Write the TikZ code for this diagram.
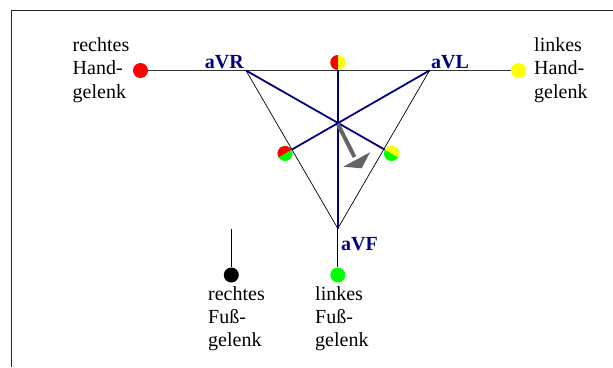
\documentclass[tikz,border=0pt]{standalone}
\usepackage{fontspec}
\setmainfont{Liberation Serif}
\newfontfamily\diagserif{Liberation Serif}
\definecolor{navyline}{RGB}{0,0,128}
\definecolor{dotred}{RGB}{255,0,0}
\definecolor{dotyellow}{RGB}{255,255,0}
\definecolor{dotgreen}{RGB}{0,255,0}
\definecolor{vecgray}{RGB}{100,100,100}
\begin{document}
\begin{tikzpicture}[x=1pt,y=-1pt,
  framestyle/.style={draw=black!85,line width=1.2pt},
  wire/.style={draw=black!80,line width=1.1pt},
  thinline/.style={draw=black,line width=0.7pt},
  blueline/.style={draw=navyline,line width=1.8pt},
  dot/.style={circle,inner sep=0pt,minimum size=15pt,draw=none},
  lbl/.style={align=left,inner sep=0pt,font=\diagserif\fontsize{20}{23.3}\selectfont},
  lead/.style={inner sep=0pt,text=navyline,font=\diagserif\fontsize{20}{23.3}\selectfont\bfseries}]
\useasboundingbox (0,0) rectangle (613,367);
\fill[white] (0,0) rectangle (613,367);
% frame
\draw[framestyle] (11.5,367) -- (11.5,10.5) -- (613,10.5);

% electrodes
\node[dot,fill=dotred]    (RA) at (140.5,70.5) {};
\node[dot,fill=dotyellow] (LA) at (518.5,70.5) {};
\node[dot,fill=black]     (RL) at (231.3,275) {};
\node[dot,fill=dotgreen]  (LL) at (337.8,275) {};
\node[dot] (Ctop) at (337.8,62.5) {};
\node[dot] (Ld)   at (285,153.5) {};
\node[dot] (Rd)   at (391.5,153.5) {};

% triangle vertices
\coordinate (vR) at (246,70.5);
\coordinate (vL) at (429.5,70.5);
\coordinate (vF) at (337.8,228.5);
\coordinate (RLtop) at (231.3,229);
\coordinate (X) at (337.8,124);

% wires
\draw[wire] (RA) -- (LA);
\draw[thinline] (vR) -- (vF) -- (vL);
\draw[thinline] (vF) -- (LL);
\draw[thinline] (RLtop) -- (RL);

% augmented leads
\draw[blueline] (Ctop) -- (vF);
\draw[blueline] (vR) -- (Rd);
\draw[blueline] (vL) -- (Ld);

% two-coloured electrodes
\fill[dotyellow] (Ctop.center) circle[radius=7.5];
\fill[dotred] (Ctop.center) ++(90:7.5) arc[start angle=90,end angle=270,radius=7.5] -- cycle;
\fill[dotgreen] (Ld.center) circle[radius=7.5];
\fill[dotred] (Ld.center) ++(150.2:7.5) arc[start angle=150.2,end angle=330.2,radius=7.5] -- cycle;
\fill[dotgreen] (Rd.center) circle[radius=7.5];
\fill[dotyellow] (Rd.center) ++(-150.2:7.5) arc[start angle=-150.2,end angle=29.8,radius=7.5] -- cycle;

% heart vector
\draw[vecgray,line width=4pt] (X) -- (354.5,157);
\fill[vecgray] (343.3,166.7) -- (370,152.3) -- (361.7,168.3) -- cycle;

% labels
\node[lead,anchor=base east] (lR) at (244,68.3) {aVR};
\node[lead,anchor=base west] (lL) at (431,68.3) {aVL};
\node[lead,anchor=base west] (lF) at (341,250) {aVF};

% multi-line labels: anchored at the baseline of their last line
\node[lbl,anchor=base west] (tRA) at (72.5,98.1) {rechtes\\Hand-\\gelenk};
\node[lbl,anchor=base west] (tLA) at (534,98.1) {linkes\\Hand-\\gelenk};
\node[lbl,anchor=base west] (tRL) at (208,346.6) {rechtes\\Fuß-\\gelenk};
\node[lbl,anchor=base west] (tLL) at (315,346.6) {linkes\\Fuß-\\gelenk};
\end{tikzpicture}
\end{document}
